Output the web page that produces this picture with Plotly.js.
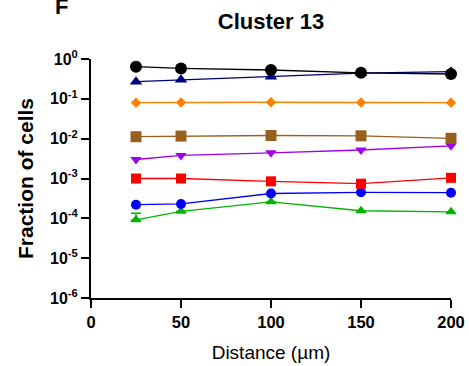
<!DOCTYPE html>
<html>
<head>
<meta charset="utf-8">
<script src="https://cdn.plot.ly/plotly-3.0.1.min.js"></script>
<style>html,body{margin:0;padding:0;background:#fff;}#chart{width:469px;height:366px;}</style>
</head>
<body>
<div id="chart"></div>
<script>
const distance = [25, 50, 100, 150, 200];
const blackSeries  = [0.64, 0.58, 0.53, 0.45, 0.42];
const navySeries   = [0.27, 0.30, 0.36, 0.44, 0.48];
const orangeSeries = [0.080, 0.081, 0.082, 0.081, 0.080];
const brownSeries  = [0.0112, 0.0116, 0.0120, 0.0118, 0.0102];
const purpleSeries = [0.0030, 0.0038, 0.0044, 0.0052, 0.0066];
const redSeries    = [0.00100, 0.00100, 0.00085, 0.00074, 0.00104];
const blueSeries   = [0.00022, 0.00023, 0.00042, 0.00045, 0.00044];
const greenSeries  = [0.000092, 0.000150, 0.00026, 0.000155, 0.000146];
const greenErrUp   = [0.000042, 0, 0, 0, 0];
const yTickVals = [1, 0.1, 0.01, 0.001, 0.0001, 0.00001, 0.000001];
const yTickText = ['10<sup>0</sup>', '10<sup>-1</sup>', '10<sup>-2</sup>', '10<sup>-3</sup>', '10<sup>-4</sup>', '10<sup>-5</sup>', '10<sup>-6</sup>'];
const xTickVals = [0, 50, 100, 150, 200];

function tr(y, color, symbol, size, extra) {
  return Object.assign({
    x: distance, y: y, type: 'scatter', mode: 'lines+markers',
    line: {color: color, width: 1.3},
    marker: {color: color, symbol: symbol, size: size},
    cliponaxis: false, showlegend: false
  }, extra || {});
}

const data = [
  tr(greenSeries, '#00B400', 'triangle-up', 10, {error_y: {type: 'data', symmetric: false, array: greenErrUp, arrayminus: [0,0,0,0,0], color: '#00B400', thickness: 1.3, width: 5}}),
  tr(blueSeries, '#0000FF', 'circle', 10),
  tr(redSeries, '#FF0000', 'square', 10),
  tr(purpleSeries, '#A000E8', 'triangle-down', 10),
  tr(brownSeries, '#98601E', 'square', 11),
  tr(orangeSeries, '#FF8000', 'diamond', 8),
  tr(navySeries, '#00007F', 'triangle-up', 11),
  tr(blackSeries, '#000000', 'circle', 12)
];

const layout = {
  width: 469, height: 366,
  margin: {l: 91, r: 18, t: 59, b: 68},
  paper_bgcolor: '#fff', plot_bgcolor: '#fff',
  font: {family: 'Liberation Sans, Arial, sans-serif', color: '#000'},
  title: {text: '<b>Cluster 13</b>', font: {size: 22, color: '#000'}, x: 0.5, xref: 'paper', xanchor: 'center', y: 1 - 21/366, yanchor: 'middle', yref: 'container'},
  xaxis: {
    range: [0, 200], tickvals: xTickVals, ticktext: xTickVals.map(v => '<b>' + v + '</b>'),
    showgrid: false, zeroline: false, showline: true, linecolor: '#000', linewidth: 2,
    ticks: 'outside', ticklen: 8, tickwidth: 2, tickcolor: '#000',
    tickfont: {size: 16.5, color: '#000'},
    title: {text: 'Distance (µm)', font: {size: 19, color: '#000'}, standoff: 16}
  },
  yaxis: {
    type: 'log', range: [-6, 0], tickvals: yTickVals, ticktext: yTickText.map(t => '<b>' + t + '</b>'),
    showgrid: false, zeroline: false, showline: true, linecolor: '#000', linewidth: 2,
    ticks: 'outside', ticklen: 8, tickwidth: 2, tickcolor: '#000',
    tickfont: {size: 16, color: '#000'},
    title: {text: '<b>Fraction of cells</b>', font: {size: 21, color: '#000'}, standoff: 11}
  },
  shapes: [
    {type: 'line', xref: 'paper', yref: 'paper', x0: -8/360, x1: 0, y0: 0, y1: 0, line: {color: '#000', width: 2}},
    {type: 'line', xref: 'paper', yref: 'paper', x0: 0, x1: 0, y0: -8/239, y1: 0, line: {color: '#000', width: 2}}
  ],
  annotations: [{
    text: '<b>F</b>', xref: 'paper', yref: 'paper', x: -30/360, y: (298 - 6.5)/239,
    xanchor: 'center', yanchor: 'middle', showarrow: false, font: {size: 22, color: '#000'}
  }]
};

Plotly.newPlot('chart', data, layout, {displayModeBar: false, staticPlot: true});
</script>
</body>
</html>
